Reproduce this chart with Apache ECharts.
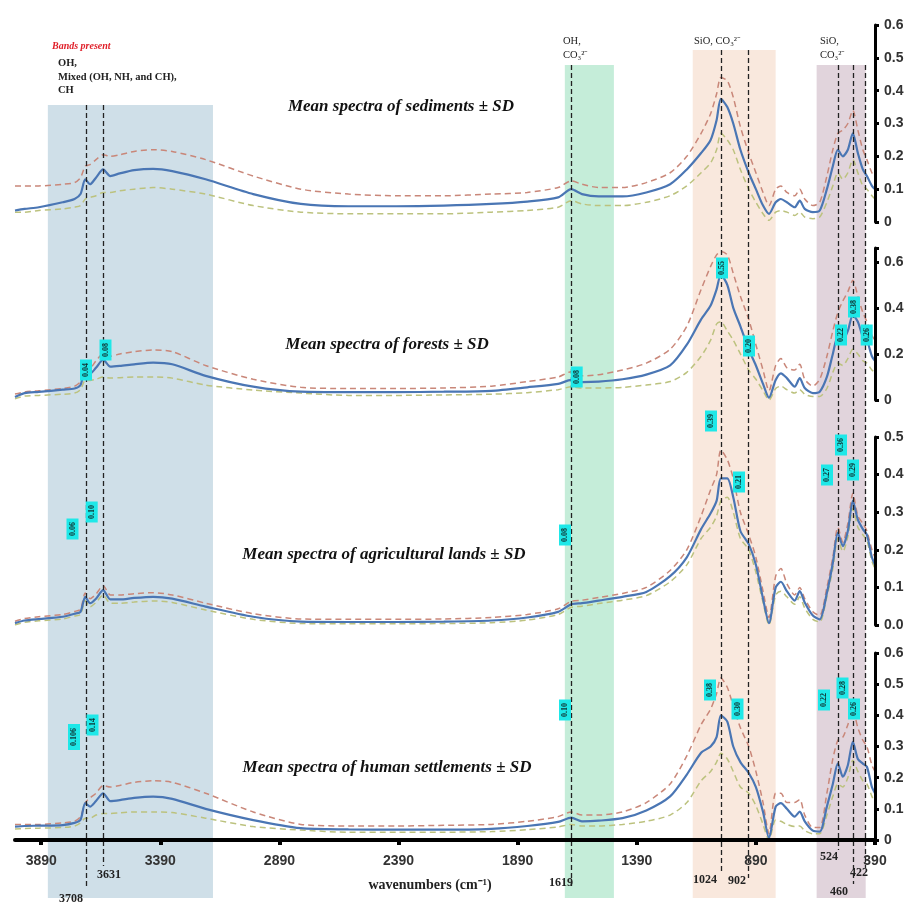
<!DOCTYPE html>
<html><head><meta charset="utf-8">
<script src="https://cdn.jsdelivr.net/npm/echarts@6/dist/echarts.min.js"></script>
<style>html,body{margin:0;padding:0;background:#fff}#c{width:918px;height:905px}</style>
</head><body><div id="c"></div>
<script>
const wavenumbers = [4000,3960,3900,3800,3750,3725,3705,3685,3660,3630,3600,3560,3500,3420,3340,3200,3000,2800,2600,2400,2200,2000,1850,1720,1665,1620,1550,1450,1350,1250,1180,1120,1080,1055,1037,1010,985,955,920,890,860,835,807,785,760,727,706,685,651,622,592,567,546,525,504,483,462,441,424,403,390];

const sedMean  = [0.035,0.04,0.045,0.06,0.07,0.085,0.13,0.115,0.135,0.16,0.14,0.148,0.158,0.162,0.155,0.13,0.085,0.055,0.048,0.048,0.05,0.055,0.062,0.075,0.1,0.085,0.078,0.078,0.09,0.115,0.16,0.21,0.25,0.31,0.375,0.35,0.3,0.22,0.15,0.1,0.05,0.025,0.06,0.07,0.06,0.045,0.065,0.04,0.03,0.035,0.1,0.17,0.22,0.2,0.22,0.27,0.21,0.16,0.14,0.11,0.1];
const sedUpper = [0.11,0.11,0.11,0.115,0.12,0.135,0.17,0.175,0.19,0.205,0.2,0.205,0.215,0.22,0.215,0.19,0.14,0.1,0.085,0.08,0.08,0.085,0.09,0.105,0.125,0.115,0.105,0.105,0.12,0.15,0.2,0.27,0.33,0.39,0.44,0.43,0.38,0.29,0.21,0.15,0.09,0.05,0.1,0.11,0.09,0.08,0.1,0.07,0.05,0.06,0.14,0.22,0.27,0.28,0.3,0.34,0.28,0.22,0.19,0.15,0.14];
const sedLower = [0.03,0.03,0.035,0.04,0.045,0.05,0.07,0.075,0.08,0.09,0.09,0.095,0.1,0.105,0.1,0.085,0.05,0.03,0.025,0.025,0.025,0.03,0.035,0.045,0.065,0.055,0.05,0.05,0.06,0.08,0.11,0.15,0.18,0.22,0.27,0.25,0.22,0.16,0.1,0.06,0.025,0.005,0.03,0.035,0.03,0.02,0.03,0.015,0.01,0.015,0.06,0.11,0.15,0.13,0.15,0.19,0.15,0.11,0.1,0.08,0.07];

const forMean  = [0.013,0.03,0.035,0.045,0.05,0.065,0.13,0.115,0.14,0.175,0.145,0.148,0.155,0.162,0.155,0.105,0.058,0.036,0.034,0.034,0.036,0.04,0.055,0.07,0.087,0.078,0.08,0.09,0.11,0.15,0.24,0.35,0.41,0.48,0.545,0.5,0.4,0.32,0.22,0.15,0.07,0.01,0.087,0.116,0.095,0.058,0.095,0.052,0.03,0.036,0.1,0.2,0.275,0.26,0.3,0.37,0.34,0.275,0.26,0.19,0.17];
const forUpper = [0.026,0.035,0.04,0.05,0.06,0.08,0.14,0.14,0.17,0.2,0.19,0.2,0.21,0.217,0.21,0.15,0.09,0.055,0.05,0.05,0.052,0.06,0.08,0.1,0.123,0.105,0.11,0.13,0.16,0.22,0.32,0.48,0.58,0.63,0.645,0.63,0.55,0.45,0.35,0.24,0.13,0.04,0.15,0.18,0.14,0.13,0.155,0.09,0.06,0.09,0.19,0.3,0.38,0.43,0.47,0.52,0.45,0.38,0.34,0.28,0.26];
const forLower = [0.005,0.017,0.02,0.025,0.03,0.045,0.085,0.085,0.09,0.1,0.095,0.097,0.1,0.1,0.095,0.065,0.043,0.03,0.02,0.02,0.022,0.025,0.032,0.045,0.057,0.052,0.052,0.055,0.065,0.08,0.12,0.19,0.26,0.33,0.34,0.3,0.26,0.2,0.13,0.09,0.04,0.0,0.05,0.06,0.045,0.03,0.045,0.025,0.015,0.015,0.05,0.12,0.16,0.15,0.18,0.22,0.2,0.17,0.16,0.13,0.12];

const agrMean  = [0.005,0.012,0.016,0.022,0.03,0.035,0.075,0.058,0.07,0.093,0.068,0.068,0.072,0.075,0.07,0.049,0.022,0.009,0.008,0.008,0.009,0.012,0.02,0.035,0.055,0.058,0.065,0.075,0.088,0.13,0.18,0.255,0.297,0.33,0.39,0.39,0.34,0.25,0.215,0.16,0.07,0.005,0.1,0.115,0.09,0.065,0.09,0.06,0.025,0.015,0.085,0.165,0.245,0.21,0.25,0.33,0.28,0.255,0.24,0.18,0.16];
const agrUpper = [0.01,0.017,0.022,0.028,0.036,0.042,0.085,0.07,0.082,0.105,0.08,0.08,0.083,0.086,0.08,0.058,0.03,0.016,0.015,0.015,0.016,0.02,0.028,0.043,0.063,0.066,0.073,0.084,0.1,0.145,0.2,0.29,0.36,0.4,0.465,0.44,0.39,0.3,0.24,0.18,0.09,0.02,0.13,0.15,0.11,0.08,0.1,0.07,0.035,0.025,0.1,0.18,0.26,0.22,0.27,0.35,0.29,0.27,0.25,0.2,0.18];
const agrLower = [0.0,0.007,0.011,0.016,0.024,0.028,0.065,0.048,0.06,0.08,0.058,0.058,0.061,0.064,0.06,0.04,0.015,0.004,0.003,0.003,0.004,0.006,0.013,0.028,0.047,0.05,0.057,0.066,0.078,0.115,0.16,0.23,0.26,0.29,0.33,0.34,0.3,0.23,0.2,0.14,0.06,0.0,0.08,0.09,0.075,0.055,0.075,0.045,0.015,0.008,0.075,0.15,0.23,0.195,0.235,0.31,0.26,0.24,0.225,0.17,0.15];

const humMean  = [0.043,0.045,0.046,0.048,0.055,0.065,0.118,0.107,0.125,0.15,0.125,0.128,0.135,0.139,0.132,0.1,0.064,0.038,0.034,0.033,0.033,0.036,0.045,0.058,0.072,0.06,0.062,0.07,0.095,0.14,0.21,0.28,0.3,0.33,0.4,0.38,0.3,0.25,0.215,0.17,0.09,0.006,0.107,0.118,0.1,0.075,0.091,0.06,0.03,0.027,0.107,0.18,0.246,0.203,0.24,0.315,0.26,0.245,0.235,0.17,0.15];
const humUpper = [0.05,0.05,0.05,0.055,0.06,0.075,0.12,0.135,0.15,0.175,0.17,0.175,0.185,0.19,0.185,0.15,0.09,0.05,0.045,0.045,0.047,0.05,0.06,0.075,0.09,0.08,0.08,0.09,0.12,0.18,0.27,0.37,0.42,0.47,0.52,0.49,0.43,0.36,0.3,0.22,0.12,0.02,0.15,0.15,0.12,0.12,0.13,0.08,0.04,0.04,0.15,0.26,0.32,0.33,0.37,0.417,0.36,0.32,0.3,0.24,0.22];
const humLower = [0.035,0.037,0.038,0.04,0.045,0.055,0.07,0.07,0.08,0.085,0.085,0.087,0.09,0.09,0.088,0.07,0.043,0.032,0.025,0.025,0.025,0.027,0.033,0.042,0.05,0.045,0.045,0.05,0.06,0.08,0.12,0.19,0.22,0.25,0.278,0.26,0.22,0.17,0.15,0.11,0.05,0.0,0.064,0.06,0.05,0.043,0.045,0.03,0.02,0.02,0.08,0.14,0.18,0.17,0.2,0.256,0.22,0.19,0.18,0.14,0.12];

const panelTitles = ['Mean spectra of sediments ± SD','Mean spectra of forests ± SD','Mean spectra of agricultural lands ± SD','Mean spectra of human settlements ± SD'];
const xTickValues = [3890,3390,2890,2390,1890,1390,890,390];
const peakLabels = ['3708','3631','1619','1024','902','524','460','422'];
const peakLinePos = [3702,3631,1667,1037,920,546,483,433];
const forPeakValues = ['0.04','0.08','0.08','0.55','0.20','0.22','0.38','0.26'];
const agrPeakValues = ['0.06','0.10','0.08','0.39','0.21','0.27','0.36','0.29'];
const humPeakValues = ['0.106','0.14','0.10','0.38','0.30','0.22','0.28','0.26'];

const chart = echarts.init(document.getElementById('c'), null, {renderer:'canvas'});
const pairs = arr => wavenumbers.map((w,i)=>[w,arr[i]]);

const grids = [
  {left:15,right:43,top:25,height:197},
  {left:15,right:43,top:248,height:152},
  {left:15,right:43,top:437,height:188},
  {left:15,right:43,top:653,height:187},
  {left:15,right:43,top:0,height:905}
];
const yCfg = [
  {max:0.6,interval:0.1,fmt:v=>v===0?'0':v.toFixed(1)},
  {max:0.66,interval:0.2,fmt:v=>Math.abs(v-0.66)<1e-6?'':(v===0?'0':v.toFixed(1))},
  {max:0.5,interval:0.1,fmt:v=>v.toFixed(1)},
  {max:0.6,interval:0.1,fmt:v=>v===0?'0':v.toFixed(1)}
];
const axisFont = 'Liberation Sans';
const xAxes = [], yAxes = [];
for (let i=0;i<4;i++){
  const bottom = i===3;
  xAxes.push({type:'value',gridIndex:i,min:390,max:4000,interval:500,inverse:true,
    show:bottom, z:10,
    axisLine:{show:bottom,lineStyle:{color:'#000',width:4}},
    axisTick:{show:bottom,length:5,lineStyle:{color:'#000',width:4},customValues:xTickValues},
    axisLabel:{show:bottom,customValues:xTickValues,margin:14,fontFamily:axisFont,fontWeight:'bold',fontSize:14,color:'#333',
      formatter:v=>xTickValues.indexOf(v)>=0?String(v):''},
    splitLine:{show:false},
    name:bottom?'wavenumbers (cm⁻¹)':'',nameLocation:'middle',nameGap:38,
    nameTextStyle:{fontFamily:'Liberation Serif',fontWeight:'bold',fontSize:14,color:'#222',padding:[0,30,0,0]}
  });
  yAxes.push({type:'value',gridIndex:i,position:'right',min:0,max:yCfg[i].max,interval:yCfg[i].interval,z:10,
    axisLine:{show:true,lineStyle:{color:'#000',width:3}},
    axisTick:{show:true,length:4,lineStyle:{color:'#000',width:3}},
    axisLabel:{margin:9,fontFamily:axisFont,fontWeight:'bold',fontSize:14,color:'#333',formatter:yCfg[i].fmt},
    splitLine:{show:false}
  });
}
xAxes.push({type:'value',gridIndex:4,min:390,max:4000,inverse:true,show:false});
yAxes.push({type:'value',gridIndex:4,min:0,max:905,inverse:true,show:false});

const series = [];
const panels = [[sedMean,sedUpper,sedLower],[forMean,forUpper,forLower],[agrMean,agrUpper,agrLower],[humMean,humUpper,humLower]];
panels.forEach((p,i)=>{
  series.push({type:'line',xAxisIndex:i,yAxisIndex:i,data:pairs(p[1]),showSymbol:false,smooth:0.25,z:3,
    lineStyle:{color:'#c98779',width:1.5,type:[6,4]}});
  series.push({type:'line',xAxisIndex:i,yAxisIndex:i,data:pairs(p[2]),showSymbol:false,smooth:0.25,z:3,
    lineStyle:{color:'#bcc27e',width:1.5,type:[6,4]}});
  series.push({type:'line',xAxisIndex:i,yAxisIndex:i,data:pairs(p[0]),showSymbol:false,smooth:0.25,z:4,
    lineStyle:{color:'#4a76b4',width:2.2}});
});

const bands = [
  {x:[3862,3169],top:105,color:'rgba(168,197,214,0.55)'},
  {x:[1692,1486],top:65,color:'rgba(150,222,186,0.55)'},
  {x:[1155,807],top:50,color:'rgba(244,214,193,0.55)'},
  {x:[635,429],top:65,color:'rgba(200,176,192,0.55)'}
];
series.push({type:'line',xAxisIndex:4,yAxisIndex:4,data:[],z:1,silent:true,
  markArea:{silent:true,data:bands.map(b=>[{xAxis:b.x[0],yAxis:b.top,itemStyle:{color:b.color}},{xAxis:b.x[1],yAxis:898}])}
});
const lineTops=[105,105,65,50,50,65,65,65];
const lineBottoms=[888,866,888,872,878,850,884,868];
series.push({type:'line',xAxisIndex:4,yAxisIndex:4,data:[],z:5,silent:true,
  markLine:{silent:true,symbol:'none',label:{show:false},
    lineStyle:{color:'#222',width:1.3,type:[5,3]},
    data:peakLinePos.map((w,i)=>[{coord:[w,lineTops[i]]},{coord:[w,lineBottoms[i]]}])}
});

const graphic = [];
const titlePos = [[401,107],[387,345],[384,555],[387,768]];
panelTitles.forEach((t,i)=>graphic.push({type:'text',x:titlePos[i][0],y:titlePos[i][1],z:50,
  style:{text:t,font:'italic bold 17px "Liberation Serif"',fill:'#111',textAlign:'center',textVerticalAlign:'middle'}}));
const peakLabelPos = [[71,899],[109,875],[561,883],[705,880],[737,881],[829,857],[839,892],[859,873]];
peakLabels.forEach((t,i)=>graphic.push({type:'text',x:peakLabelPos[i][0],y:peakLabelPos[i][1],z:50,
  style:{text:t,font:'bold 12px "Liberation Serif"',fill:'#222',textAlign:'center',textVerticalAlign:'middle'}}));
const topTexts = [
  ['Bands present',52,46,'italic bold 10px "Liberation Serif"','#e0202a'],
  ['OH,',58,63,'bold 10.5px "Liberation Serif"','#222'],
  ['Mixed (OH, NH, and CH),',58,77,'bold 10.5px "Liberation Serif"','#222'],
  ['CH',58,90,'bold 10.5px "Liberation Serif"','#222'],
  ['OH,',563,41,'10.5px "Liberation Serif"','#222'],
  ['CO₃²⁻',563,55,'10.5px "Liberation Serif"','#222'],
  ['SiO, CO₃²⁻',694,41,'10.5px "Liberation Serif"','#222'],
  ['SiO,',820,41,'10.5px "Liberation Serif"','#222'],
  ['CO₃²⁻',820,55,'10.5px "Liberation Serif"','#222']
];
topTexts.forEach(t=>graphic.push({type:'text',x:t[1],y:t[2],z:50,
  style:{text:t[0],font:t[3],fill:t[4],textAlign:'left',textVerticalAlign:'middle'}}));

const boxPos = [
  [[86,370],[105.5,350],[576.7,377],[722,268],[749,346],[841,335],[854,307],[866.7,335]],
  [[72.5,529],[91.7,512],[565,535],[711,421],[739,482],[827,475],[841,445],[853,470]],
  [[74,737],[92.5,725],[565,710],[710,690],[737.5,709],[824,700],[842.5,688],[854,709]]
];
[forPeakValues,agrPeakValues,humPeakValues].forEach((vals,pi)=>{
  vals.forEach((t,i)=>{
    const h = t.length>4?26:21;
    const cx = boxPos[pi][i][0], cy = boxPos[pi][i][1];
    graphic.push({type:'rect',z:60,zlevel:0,silent:true,shape:{x:cx-6,y:cy-h/2,width:12,height:h},style:{fill:'#1ee8e8'}});
    graphic.push({type:'text',z:61,silent:true,x:cx,y:cy,rotation:Math.PI/2,
      style:{text:t,x:0,y:0,font:'bold 8px "Liberation Serif"',fill:'#103030',textAlign:'center',textVerticalAlign:'middle'}});
  });
});

chart.setOption({animation:false,backgroundColor:'#fff',grid:grids,xAxis:xAxes,yAxis:yAxes,series:series,graphic:graphic});
</script></body></html>
